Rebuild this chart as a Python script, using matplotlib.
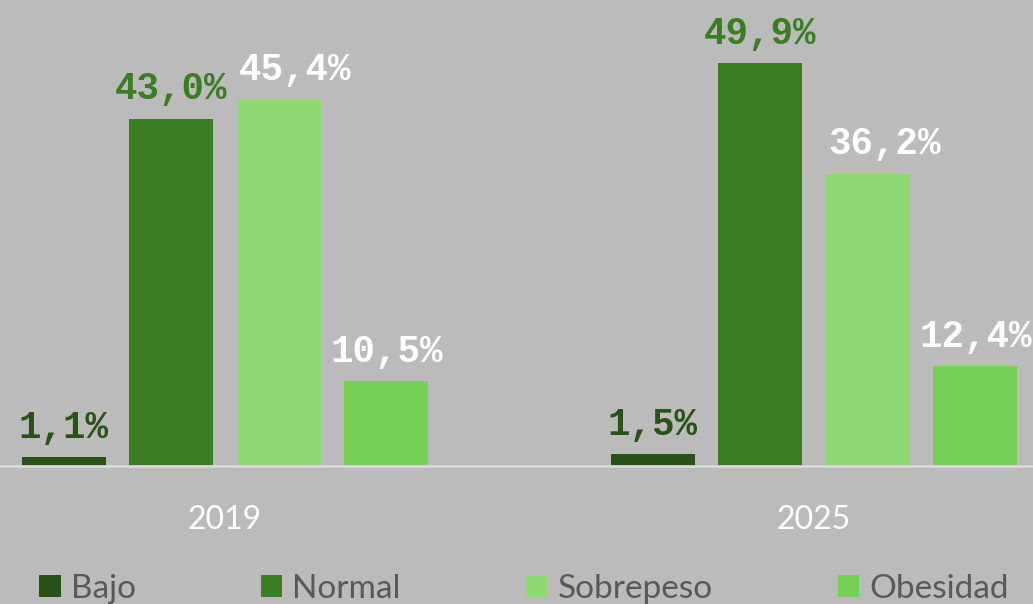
import matplotlib
matplotlib.use('Agg')
import matplotlib.pyplot as plt
import numpy as np

years = ['2019', '2025']
categories = ['Bajo', 'Normal', 'Sobrepeso', 'Obesidad']
bajo = [1.1, 1.5]
normal = [43.0, 49.9]
sobrepeso = [45.4, 36.2]
obesidad = [10.5, 12.4]
series = [bajo, normal, sobrepeso, obesidad]

colors = ['#275317', '#3A7D22', '#8ED973', '#75D155']
label_colors = ['#275317', '#3A7D22', '#FFFFFF', '#FFFFFF']
label_dx = [0, 0, 12, 0]  # points, horizontal nudge of the value labels
bg = '#BBBBBB'

W, H = 1033, 604
fig = plt.figure(figsize=(W / 100, H / 100), dpi=100, facecolor=bg)
base_px = 466
ax = fig.add_axes([0, (H - base_px) / H, 1, base_px / H])
ax.set_facecolor(bg)
ax.set_xlim(-225 / 589, (W - 225) / 589)
ax.set_ylim(0, base_px / 8.08)

width = 84 / 589
step = 107.5 / 589
x0 = np.arange(len(years))
handles = []
for i, (cat, vals) in enumerate(zip(categories, series)):
    x = x0 + (i - 1.5) * step
    bars = ax.bar(x, vals, width=width, color=colors[i], label=cat, zorder=2)
    handles.append(bars)
    for xi, v in zip(x, vals):
        ax.annotate(f"{v:.1f}".replace('.', ',') + '%', (xi, v),
                    xytext=(label_dx[i], 8), textcoords='offset points',
                    ha='center', va='bottom', color=label_colors[i],
                    fontsize=27, fontweight='bold', family='Liberation Mono')

ax.axhline(0, color='#D9D9D9', lw=2, clip_on=False, zorder=3)
for s in ax.spines.values():
    s.set_visible(False)
ax.set_yticks([])
ax.set_xticks(x0, years)
ax.tick_params(axis='x', length=0, pad=28, labelcolor='white', labelsize=23)
for t in ax.get_xticklabels():
    t.set_family('Lato')

fig.legend(handles=handles, loc='lower left', bbox_to_anchor=(39 / W, 0.0),
           ncol=4, frameon=False, prop={'family': 'Lato', 'size': 24},
           labelcolor='#595959', handlelength=0.65, handleheight=0.65,
           handletextpad=0.3, columnspacing=3.75, borderpad=0, borderaxespad=0)

fig.savefig('out.png', dpi=100, facecolor=bg)
